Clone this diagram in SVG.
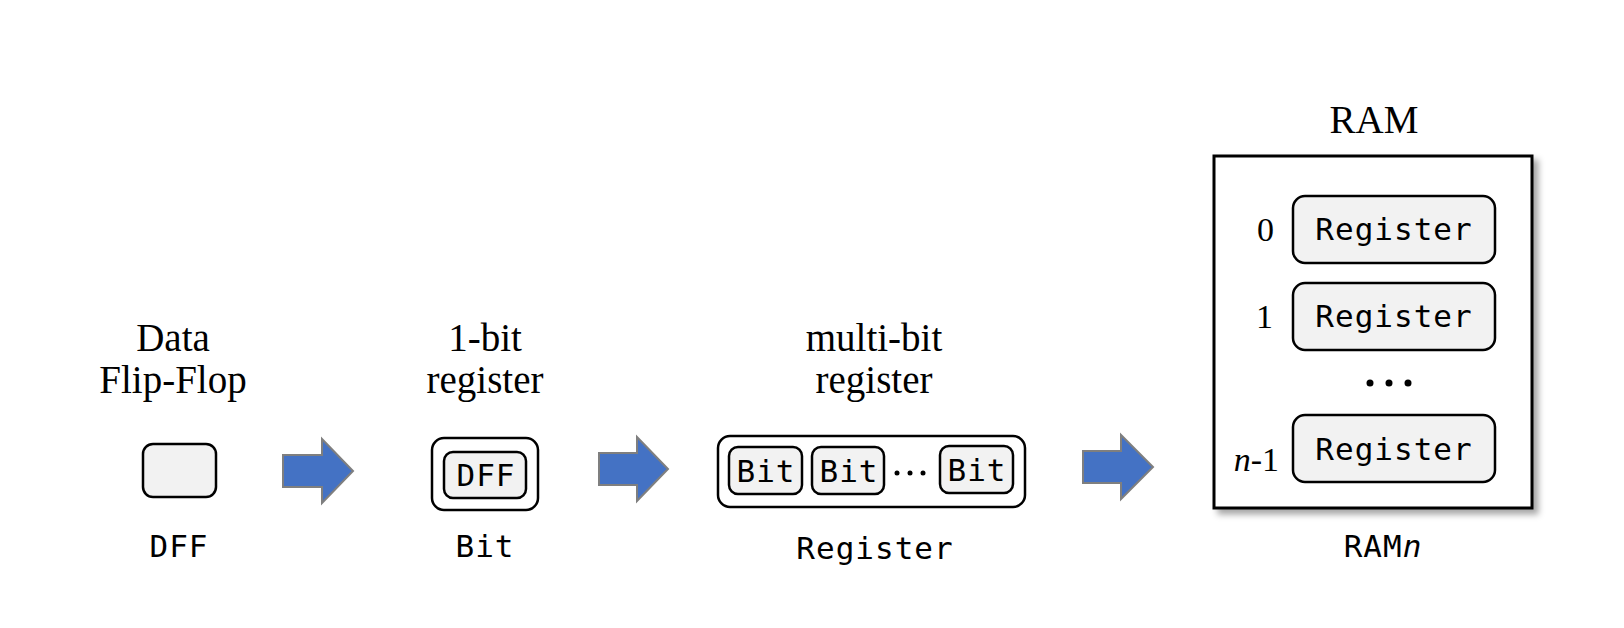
<svg xmlns="http://www.w3.org/2000/svg" width="1624" height="628" viewBox="0 0 1624 628">
  <defs>
    <filter id="shadow" x="-10%" y="-10%" width="130%" height="130%">
      <feDropShadow dx="5" dy="5" stdDeviation="3" flood-color="#000" flood-opacity="0.35"/>
    </filter>
  </defs>
  <style>
    .title { font-family: "Liberation Serif", "Times New Roman", serif; font-size: 39px; fill: #000; text-anchor: middle; }
    .idx { font-family: "Liberation Serif", "Times New Roman", serif; font-size: 34px; fill: #000; text-anchor: end; }
    .mono { font-family: "DejaVu Sans Mono", "Liberation Mono", monospace; font-size: 31px; fill: #000; text-anchor: middle; letter-spacing: 1px; }
    .cell { fill: #f2f2f2; stroke: #000; stroke-width: 2.5; }
    .outer { fill: #fff; stroke: #000; stroke-width: 2.5; }
    .arrow { fill: #4472c4; stroke: #7f7f7f; stroke-width: 2; }
    .dot { fill: #000; }
  </style>
  <rect width="1624" height="628" fill="#fff"/>

  <g id="dff">
    <text class="title" x="173" y="351">Data</text>
    <text class="title" x="173" y="393">Flip-Flop</text>
    <rect class="cell" x="143" y="444" width="73" height="53" rx="10"/>
    <text class="mono" x="179" y="557">DFF</text>
  </g>

  <g id="bit">
    <text class="title" x="485" y="351">1-bit</text>
    <text class="title" x="485" y="393">register</text>
    <rect class="outer" x="432" y="438" width="106" height="72" rx="12"/>
    <rect class="cell" x="444" y="452" width="82" height="46" rx="9"/>
    <text class="mono" x="486" y="486">DFF</text>
    <text class="mono" x="485" y="557">Bit</text>
  </g>

  <g id="register">
    <text class="title" x="874" y="351">multi-bit</text>
    <text class="title" x="874" y="393">register</text>
    <rect class="outer" x="718" y="436" width="307" height="71" rx="12"/>
    <rect class="cell" x="729" y="447" width="73" height="47" rx="9"/>
    <text class="mono" x="766" y="482">Bit</text>
    <rect class="cell" x="812" y="447" width="72" height="47" rx="9"/>
    <text class="mono" x="849" y="482">Bit</text>
    <circle class="dot" cx="897" cy="473" r="2.5"/>
    <circle class="dot" cx="910" cy="473" r="2.5"/>
    <circle class="dot" cx="923" cy="473" r="2.5"/>
    <rect class="cell" x="940" y="446" width="73" height="47" rx="9"/>
    <text class="mono" x="977" y="481">Bit</text>
    <text class="mono" x="875" y="559">Register</text>
  </g>

  <g id="ram">
    <text class="title" x="1374" y="133">RAM</text>
    <rect x="1214" y="156" width="318" height="352" fill="#fff" stroke="#000" stroke-width="3" filter="url(#shadow)"/>
    <text class="idx" x="1274" y="241">0</text>
    <rect class="cell" x="1293" y="196" width="202" height="67" rx="12"/>
    <text class="mono" x="1394" y="240">Register</text>
    <text class="idx" x="1273" y="328">1</text>
    <rect class="cell" x="1293" y="283" width="202" height="67" rx="12"/>
    <text class="mono" x="1394" y="327">Register</text>
    <circle class="dot" cx="1370" cy="383" r="3.5"/>
    <circle class="dot" cx="1389" cy="383" r="3.5"/>
    <circle class="dot" cx="1408" cy="383" r="3.5"/>
    <text class="idx" x="1279" y="471"><tspan font-style="italic">n</tspan>-1</text>
    <rect class="cell" x="1293" y="415" width="202" height="67" rx="12"/>
    <text class="mono" x="1394" y="460">Register</text>
    <text class="mono" x="1383" y="557">RAM<tspan font-style="italic">n</tspan></text>
  </g>

  <g id="connectors">
    <path class="arrow" d="M283,455 H322 V439 L353,471 L322,503 V487 H283 Z"/>
    <path class="arrow" d="M599,453 H637 V437 L668,469 L637,501 V485 H599 Z"/>
    <path class="arrow" d="M1083,451 H1121 V435 L1153,467 L1121,499 V483 H1083 Z"/>
  </g>
</svg>
